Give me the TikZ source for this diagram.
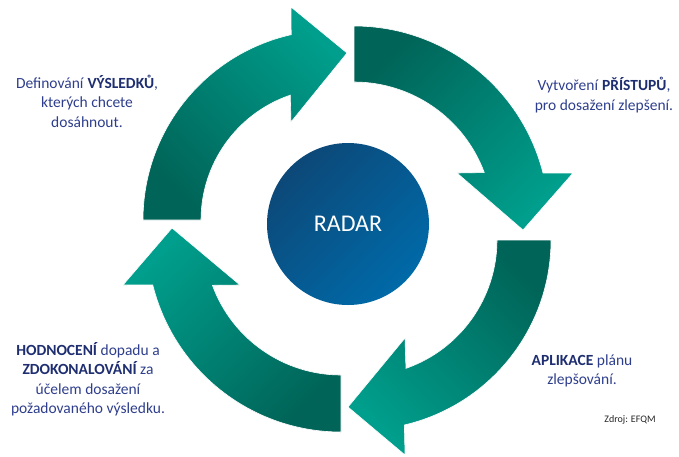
\documentclass[tikz,border=0pt]{standalone}
\usepackage{fontspec}
\setmainfont{Carlito}
\usetikzlibrary{calc}
\definecolor{tealdark}{RGB}{0,100,88}
\definecolor{teallight}{RGB}{0,158,140}
\definecolor{bluedark}{RGB}{12,72,120}
\definecolor{bluelight}{RGB}{0,106,168}
\definecolor{labelblue}{RGB}{46,62,140}
\definecolor{boldblue}{RGB}{30,46,112}
\newcommand{\hl}[1]{\textbf{\color{boldblue}#1}}
\tikzset{
  label/.style={align=center, text=labelblue, font=\fontsize{15.5}{19.5}\selectfont, inner sep=0pt},
  arrowshape/.style={draw=white, line width=0.6pt, line join=miter},
}
\begin{document}
\begin{tikzpicture}[x=1pt,y=-1pt]
\useasboundingbox (0,0) rectangle (679,456);
\coordinate (c1) at (333,220);
\coordinate (c2) at (354,221);
\coordinate (c3) at (361,240);
\coordinate (c4) at (341,238);
% arrow 1 (top left, pointing right)
\shade[arrowshape, top color=teallight, bottom color=tealdark, shading angle=-45]
  ($(c1)+(180:190)$) arc[start angle=180, end angle=257.3, radius=190]
  -- (291,7) -- (347,53) -- (291,122)
  -- ($(c1)+(251.1:132)$) arc[start angle=251.1, end angle=180, radius=132] -- cycle;
% arrow 2 (top right, pointing down)
\shade[arrowshape, top color=tealdark, bottom color=teallight, shading angle=45]
  ($(c2)+(270:195)$) arc[start angle=270, end angle=345.8, radius=195]
  -- (573,173) -- (523,230) -- (457,173)
  -- ($(c2)+(339.6:139)$) arc[start angle=339.6, end angle=270, radius=139] -- cycle;
% arrow 3 (bottom right, pointing left)
\shade[arrowshape, top color=tealdark, bottom color=teallight, shading angle=-45]
  ($(c3)+(0:190)$) arc[start angle=0, end angle=76.8, radius=190]
  -- (405,455) -- (348,407) -- (405,338)
  -- ($(c3)+(70.7:136)$) arc[start angle=70.7, end angle=0, radius=136] -- cycle;
% arrow 4 (bottom left, pointing up)
\shade[arrowshape, top color=teallight, bottom color=tealdark, shading angle=45]
  ($(c4)+(90:194)$) arc[start angle=90, end angle=166, radius=194]
  -- (123,285) -- (172,228) -- (240,285)
  -- ($(c4)+(159.8:137)$) arc[start angle=159.8, end angle=90, radius=137] -- cycle;
% center
\node[circle, minimum size=162pt, inner sep=0pt, top color=bluedark, bottom color=bluelight, shading angle=45,
      text=white, font=\fontsize{24}{28}\selectfont] (radar) at (348,224) {RADAR};
% labels
\node[label] (tl) at (87,101) {Definování \hl{VÝSLEDKŮ},\\kterých chcete\\dosáhnout.};
\node[label] (tr) at (604,95) {Vytvoření \hl{PŘÍSTUPŮ},\\pro dosažení zlepšení.};
\node[label] (bl) at (88,379) {\hl{HODNOCENÍ} dopadu a\\\hl{ZDOKONALOVÁNÍ} za\\účelem dosažení\\požadovaného výsledku.};
\node[label] (br) at (582,371) {\hl{APLIKACE} plánu\\zlepšování.};
\node[font=\fontsize{10}{12}\selectfont, text=black!85, inner sep=0pt] (src) at (630,420) {Zdroj: EFQM};
\end{tikzpicture}
\end{document}
